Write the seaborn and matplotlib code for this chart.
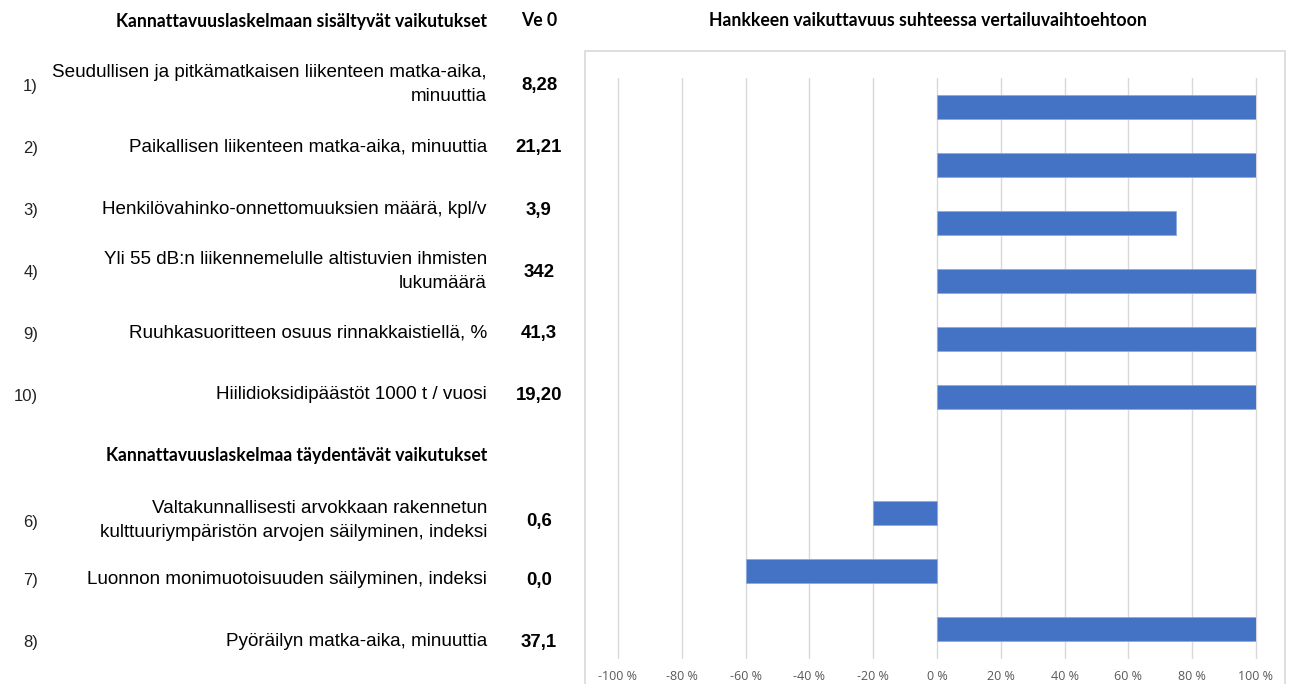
import matplotlib
matplotlib.use("Agg")
import matplotlib.pyplot as plt
from matplotlib.patches import Rectangle
import pandas as pd
import seaborn as sns

# Data
rivit = ["1)", "2)", "3)", "4)", "9)", "10)", "6)", "7)", "8)"]
vaikutukset = [
    "Seudullisen ja pitkämatkaisen liikenteen matka-aika,\nminuuttia",
    "Paikallisen liikenteen matka-aika, minuuttia",
    "Henkilövahinko-onnettomuuksien määrä, kpl/v",
    "Yli 55 dB:n liikennemelulle altistuvien ihmisten\nlukumäärä",
    "Ruuhkasuoritteen osuus rinnakkaistiellä, %",
    "Hiilidioksidipäästöt 1000 t / vuosi",
    "Valtakunnallisesti arvokkaan rakennetun\nkulttuuriympäristön arvojen säilyminen, indeksi",
    "Luonnon monimuotoisuuden säilyminen, indeksi",
    "Pyöräilyn matka-aika, minuuttia",
]
ve0 = ["8,28", "21,21", "3,9", "342", "41,3", "19,20", "0,6", "0,0", "37,1"]
muutos = [100, 100, 75, 100, 100, 100, -20, -60, 100]

otsikko_vasen = "Kannattavuuslaskelmaan sisältyvät vaikutukset"
otsikko_ve = "Ve 0"
otsikko_taydentavat = "Kannattavuuslaskelmaa täydentävät vaikutukset"
otsikko_kaavio = "Hankkeen vaikuttavuus suhteessa vertailuvaihtoehtoon"
x_ticks = [-100, -80, -60, -40, -20, 0, 20, 40, 60, 80, 100]

df = pd.DataFrame({"rivi": rivit, "muutos": muutos})
# empty slot between the two groups
order = rivit[:6] + ["_tyhja"] + rivit[6:]

W, H = 1290, 684
fig = plt.figure(figsize=(W / 100, H / 100), dpi=100)
sns.set_style("white")


def fx(px):
    return px / W


def fy(py):
    return 1 - py / H


# chart frame
fig.patches.append(Rectangle((fx(585), -0.01), fx(1285) - fx(585), fy(51) + 0.01,
                             transform=fig.transFigure, fill=False,
                             edgecolor="#d9d9d9", lw=1.2))

ax = fig.add_axes([fx(618), fy(658), fx(1256) - fx(618), (658 - 78) / H])
sns.barplot(data=df, x="muutos", y="rivi", order=order, orient="h",
            color="#4472C4", saturation=1, width=0.4, ax=ax,
            edgecolor="#8fa9dc", linewidth=0.6)
ax.set_xlim(-100, 100)
ax.set_ylim(9.5, -0.5)
ax.set_xticks(x_ticks)
ax.set_xticklabels([f"{v} %" for v in x_ticks], color="#595959", fontsize=9,
                   family="Open Sans")
ax.tick_params(axis="x", length=0, pad=9)
ax.set_yticks([])
ax.set_xlabel("")
ax.set_ylabel("")
ax.grid(axis="x", color="#d9d9d9", lw=1)
ax.set_axisbelow(True)
for s in ax.spines.values():
    s.set_visible(False)
for gl in ax.get_xgridlines():
    gl.set_clip_on(False)

# titles
bold = dict(family="Lato", fontweight="bold", fontsize=12.7, color="black")
fig.text(fx(487), fy(21), otsikko_vasen, ha="right", va="center", **bold)
fig.text(fx(539), fy(21), otsikko_ve, ha="center", va="center", **bold)
fig.text(fx(487), fy(456), otsikko_taydentavat, ha="right", va="center", **bold)
fig.text(fx(928), fy(21), otsikko_kaavio, ha="center", va="center", **bold)

# table rows
rivi_y = [83, 145, 208, 270, 331, 393, 519, 578, 640]
for r, lab, val, y in zip(rivit, vaikutukset, ve0, rivi_y):
    fig.text(fx(38), fy(y + 3), r, ha="right", va="center", fontsize=12,
             family="Liberation Sans", color="#222222")
    fig.text(fx(487), fy(y + 1.5), lab, ha="right", va="center", fontsize=13.6,
             family="Liberation Sans", color="black", linespacing=1.5)
    fig.text(fx(539), fy(y + 2.5), val, ha="center", va="center", fontsize=13.4,
             family="Liberation Sans", fontweight="bold", color="black")

fig.savefig("out.png", dpi=100, facecolor="white")
